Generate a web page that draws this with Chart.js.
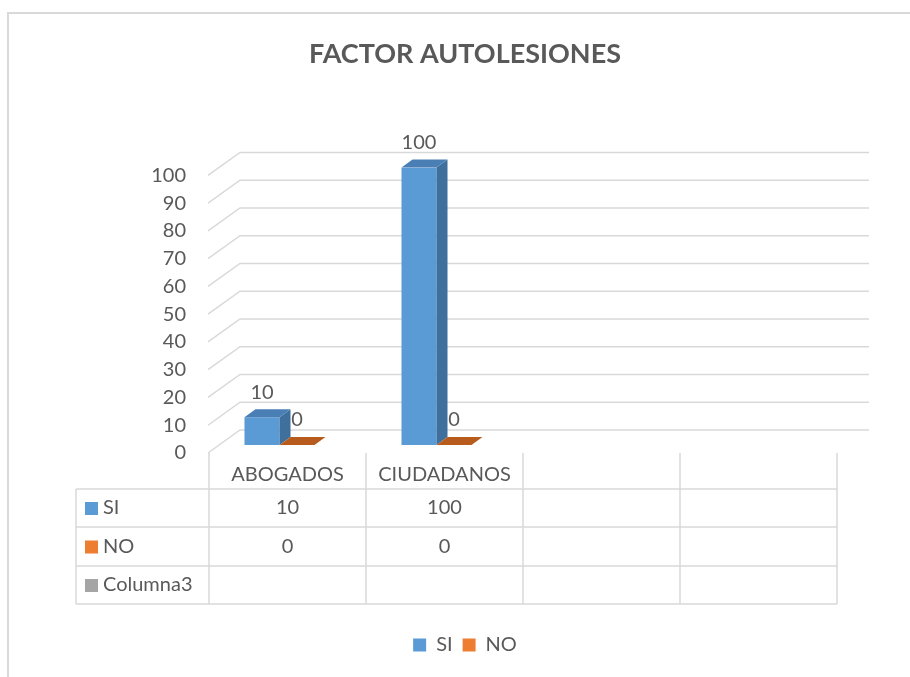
<!DOCTYPE html>
<html>
<head>
<meta charset="utf-8">
<script src="https://cdn.jsdelivr.net/npm/chart.js@4.4.1/dist/chart.umd.min.js"></script>
<style>
  html, body { margin: 0; padding: 0; background: #fff; overflow: hidden; }
  #frame {
    position: absolute; left: 7px; top: 12px; width: 1000px; height: 800px;
    border-left: 2px solid #d9d9d9; border-top: 2px solid #d9d9d9;
  }
  #wrap { position: absolute; left: 0; top: 0; width: 910px; height: 677px; }
</style>
</head>
<body>
<div id="frame"></div>
<div id="wrap"><canvas id="chart" width="910" height="677"></canvas></div>
<script>
  const categories = ["ABOGADOS", "CIUDADANOS", "", ""];
  const siValues = [10, 100, null, null];
  const noValues = [0, 0, null, null];
  const columna3Values = [null, null, null, null];
  const seriesNames = ["SI", "NO", "Columna3"];
  const seriesColors = ["#5B9BD5", "#ED7D31", "#A5A5A5"];

  const textColor = "#595959";
  const gridColor = "#d9d9d9";
  const fontFamily = "Lato, 'Open Sans', sans-serif";

  // darker faces for the fake 3d look
  const sideColors = ["#3f6f9c", "#b0581c"];
  const topColors = ["#4a7fb5", "#b85c1e"];

  const depthX = 11;
  const depthY = 8;

  const grid3d = {
    id: "grid3d",
    beforeDatasetsDraw(chart) {
      const { ctx, chartArea, scales } = chart;
      const y = scales.y;
      ctx.save();
      ctx.strokeStyle = gridColor;
      ctx.lineWidth = 1.5;
      y.ticks.forEach((t) => {
        const py = y.getPixelForValue(t.value);
        ctx.beginPath();
        ctx.moveTo(chartArea.left + 7, py + 8);
        ctx.lineTo(chartArea.left + 39, py - 15);
        ctx.lineTo(chartArea.right + 40, py - 15);
        ctx.stroke();
      });
      ctx.restore();
    },
  };

  const bars3d = {
    id: "bars3d",
    afterDatasetsDraw(chart) {
      const { ctx } = chart;
      ctx.save();
      chart.data.datasets.forEach((ds, di) => {
        const meta = chart.getDatasetMeta(di);
        meta.data.forEach((bar, i) => {
          if (ds.data[i] === null || ds.data[i] === undefined) return;
          const l = bar.x - bar.width / 2;
          const r = bar.x + bar.width / 2;
          const top = bar.y;
          const base = bar.base;
          if (base - top > 0) {
            ctx.fillStyle = sideColors[di];
            ctx.beginPath();
            ctx.moveTo(r, top);
            ctx.lineTo(r + depthX, top - depthY);
            ctx.lineTo(r + depthX, base - depthY);
            ctx.lineTo(r, base);
            ctx.closePath();
            ctx.fill();
          }
          ctx.fillStyle = topColors[di];
          ctx.beginPath();
          ctx.moveTo(l, top);
          ctx.lineTo(l + depthX, top - depthY);
          ctx.lineTo(r + depthX, top - depthY);
          ctx.lineTo(r, top);
          ctx.closePath();
          ctx.fill();

          ctx.fillStyle = textColor;
          ctx.font = "20px " + fontFamily;
          ctx.textAlign = "center";
          ctx.textBaseline = "middle";
          ctx.fillText(String(ds.data[i]), bar.x, top - 25);
        });
      });
      ctx.restore();
    },
  };

  const dataTable = {
    id: "dataTable",
    afterDraw(chart) {
      const { ctx, chartArea, scales } = chart;
      const x = scales.x;
      const shift = 8;
      const half = (x.getPixelForValue(1) - x.getPixelForValue(0)) / 2;
      const bounds = categories.map((c, i) => x.getPixelForValue(i) - half + shift);
      bounds.push(x.getPixelForValue(categories.length - 1) + half + shift);

      const headTop = chartArea.bottom + 8;
      const rowLines = [headTop + 36, headTop + 74, headTop + 113, headTop + 151];
      const tableLeft = 76;
      const rows = [siValues, noValues, columna3Values];

      ctx.save();
      ctx.strokeStyle = gridColor;
      ctx.lineWidth = 1.5;
      bounds.forEach((bx) => {
        ctx.beginPath();
        ctx.moveTo(bx, headTop);
        ctx.lineTo(bx, rowLines[3]);
        ctx.stroke();
      });
      ctx.beginPath();
      ctx.moveTo(tableLeft, rowLines[0]);
      ctx.lineTo(tableLeft, rowLines[3]);
      ctx.stroke();
      rowLines.forEach((ry) => {
        ctx.beginPath();
        ctx.moveTo(tableLeft, ry);
        ctx.lineTo(bounds[bounds.length - 1], ry);
        ctx.stroke();
      });

      ctx.font = "20px " + fontFamily;
      ctx.textBaseline = "middle";
      rows.forEach((vals, r) => {
        const cy = (rowLines[r] + rowLines[r + 1]) / 2;
        ctx.fillStyle = seriesColors[r];
        ctx.fillRect(tableLeft + 9, cy - 6, 13, 13);
        ctx.fillStyle = textColor;
        ctx.textAlign = "left";
        ctx.fillText(seriesNames[r], tableLeft + 27, cy);
        ctx.textAlign = "center";
        vals.forEach((v, i) => {
          if (v === null) return;
          ctx.fillText(String(v), (bounds[i] + bounds[i + 1]) / 2, cy);
        });
      });
      ctx.restore();
    },
  };

  new Chart(document.getElementById("chart").getContext("2d"), {
    type: "bar",
    data: {
      labels: categories,
      datasets: [
        { label: seriesNames[0], data: siValues, backgroundColor: seriesColors[0], borderWidth: 0 },
        { label: seriesNames[1], data: noValues, backgroundColor: seriesColors[1], borderWidth: 0 },
      ],
    },
    options: {
      responsive: false,
      animation: false,
      categoryPercentage: 0.446,
      barPercentage: 1,
      layout: { padding: { left: 101, right: 81, top: 0, bottom: 12 } },
      plugins: {
        title: {
          display: true,
          text: "FACTOR AUTOLESIONES",
          color: textColor,
          font: { family: fontFamily, size: 27, weight: "bold" },
          padding: { top: 38, bottom: 97 },
        },
        legend: {
          position: "bottom",
          labels: {
            color: textColor,
            font: { family: fontFamily, size: 20 },
            boxWidth: 13,
            boxHeight: 13,
            padding: 10,
          },
        },
        tooltip: { enabled: false },
      },
      scales: {
        x: {
          grid: { display: false, drawTicks: false },
          border: { display: false },
          ticks: {
            color: textColor,
            font: { family: fontFamily, size: 20 },
            labelOffset: 8,
            padding: 18,
            maxRotation: 0,
            autoSkip: false,
          },
          afterFit: (s) => { s.height = 180; },
        },
        y: {
          min: 0,
          max: 100,
          grid: { display: false, drawTicks: false },
          border: { display: false },
          ticks: {
            stepSize: 10,
            color: textColor,
            font: { family: fontFamily, size: 20 },
            labelOffset: 8,
            padding: 15,
          },
          afterFit: (s) => { s.width = 100; },
        },
      },
    },
    plugins: [grid3d, bars3d, dataTable],
  });
</script>
</body>
</html>
